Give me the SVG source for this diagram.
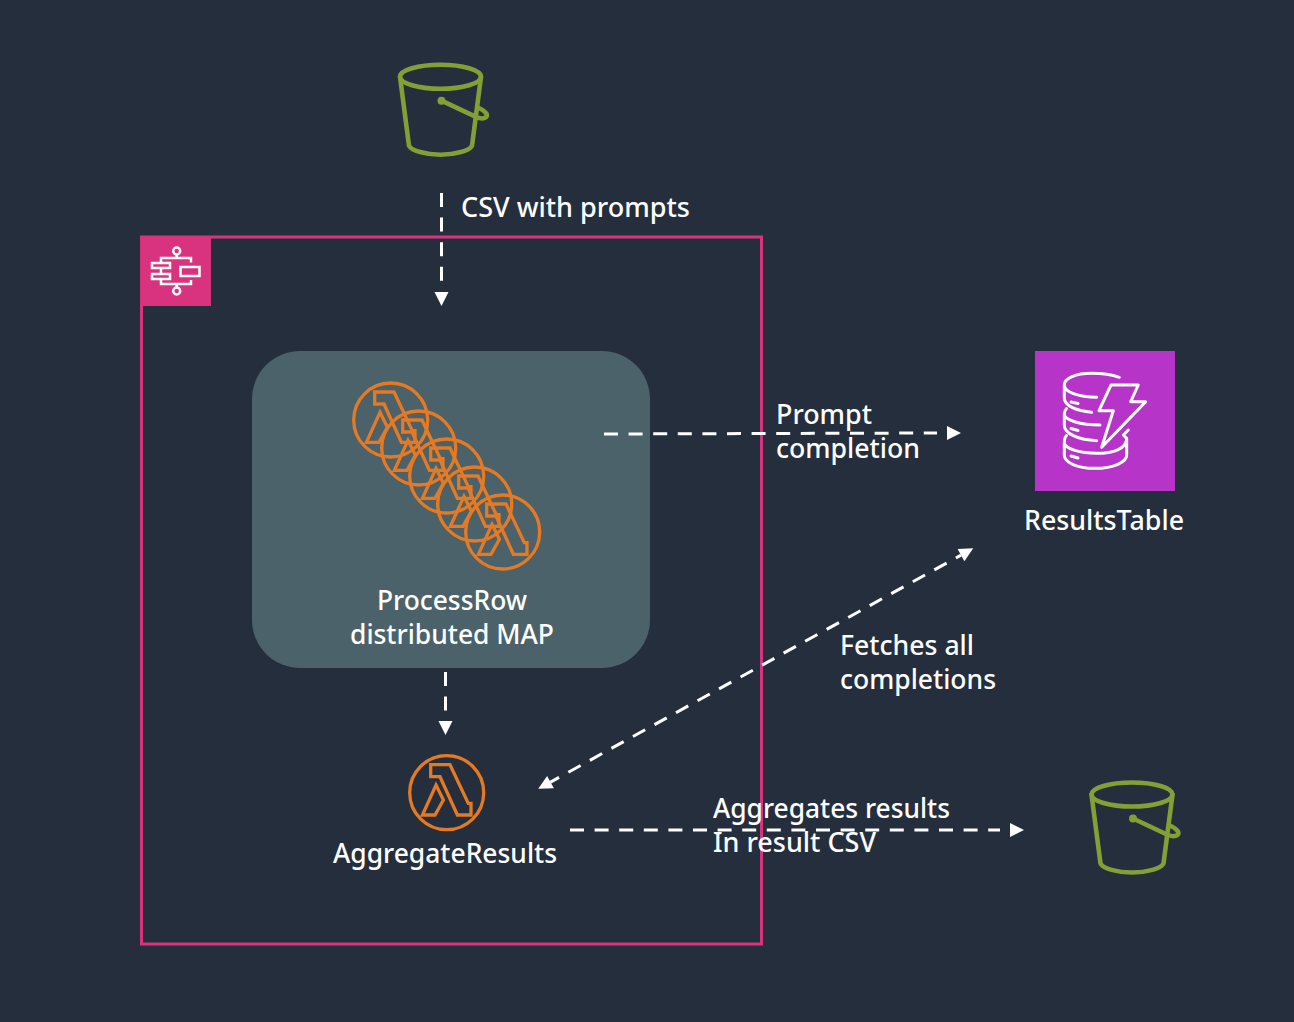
<svg xmlns="http://www.w3.org/2000/svg" width="1294" height="1022" viewBox="0 0 1294 1022">
<style>
text{font-family:"Noto Sans","Open Sans",sans-serif;font-size:27px;font-weight:500;fill:#fff}
.m{text-anchor:middle}
.c{fill:none;stroke:#fff;stroke-width:3;stroke-dasharray:14 10.600}
.l{fill:none;stroke:#e57a25;stroke-width:3.300}
.b{fill:none;stroke:#82a035;stroke-width:4.600;stroke-linecap:round;stroke-linejoin:round}
.w{fill:none;stroke:#fff;stroke-width:3;stroke-linecap:round;stroke-linejoin:round}
.ws{fill:none;stroke:#fff;stroke-width:2.500}
</style>
<defs>
<marker id="a" markerUnits="userSpaceOnUse" markerWidth="16" markerHeight="16" refX="-10" refY="7" orient="auto" overflow="visible"><path d="M0 0L14 7L0 14Z" fill="#fff"/></marker>
<marker id="h" markerUnits="userSpaceOnUse" markerWidth="16" markerHeight="16" refX="0" refY="7" orient="auto-start-reverse" overflow="visible"><path d="M0 0L14 7L0 14Z" fill="#fff"/></marker>
<g id="lam">
<circle r="37" class="l"/>
<path class="l" d="M-16-28H3.300L21.600 10.700H24.300V22.300H10.700L-6.700-16H-16ZM-10.700-7.700L-3.300 7.300-11.700 22.300H-24.300Z"/>
</g>
<g id="bucket">
<ellipse cx="0" cy="0" rx="40.500" ry="12" class="b"/>
<path class="b" d="M-40.500 0L-31.500 69C-29 74-15 78 0 78S29 74 31.500 69L40.500 0"/>
<path class="b" d="M1 24L36 40.500C43 43.500 47.500 40.500 46 37 44.500 34.500 40 32 37 30.500"/>
<circle cx="1" cy="24" r="4" fill="#82a035"/>
</g>
</defs>
<rect width="1294" height="1022" fill="#242e3d"/>
<g id="workflow">
<rect x="141.500" y="237" width="620" height="707" fill="none" stroke="#d9327e" stroke-width="3"/>
<rect x="140" y="236" width="71" height="70" fill="#d9327e"/>
<circle cx="176.700" cy="251" r="3.500" class="ws"/>
<circle cx="176.700" cy="291" r="3.500" class="ws"/>
<path class="ws" d="M176.700 254.500V258M161 263V258H191V262.500M161 268V274M161 279V284H191V280M176.700 284V287.500"/>
<rect x="152" y="263" width="18" height="5" class="ws"/>
<rect x="152" y="274" width="18" height="5" class="ws"/>
<rect x="180.500" y="267" width="19" height="9" class="ws"/>
</g>
<g id="source-bucket"><use href="#bucket" x="440.500" y="76.700"/></g>
<g id="map">
<rect x="252" y="351" width="398" height="317" rx="48" fill="#4b626a"/>
<use href="#lam" x="390.700" y="420"/>
<use href="#lam" x="418.700" y="448"/>
<use href="#lam" x="446.700" y="476"/>
<use href="#lam" x="474.700" y="504"/>
<use href="#lam" x="502.700" y="532"/>
<text class="m" x="452" y="610" textLength="150" lengthAdjust="spacingAndGlyphs">ProcessRow</text>
<text class="m" x="452" y="644" textLength="204" lengthAdjust="spacingAndGlyphs">distributed MAP</text>
</g>
<g id="aggregate">
<use href="#lam" x="446.700" y="792.700"/>
<text class="m" x="445" y="863" textLength="224" lengthAdjust="spacingAndGlyphs">AggregateResults</text>
</g>
<g id="table">
<rect x="1035" y="351" width="140" height="140" fill="#b634c8"/>
<path class="w" d="M1119.300 377.300C1111 374.300 1101 373.300 1091.700 373.300 1076 373.300 1064.300 378 1064.300 385V398C1064.300 406 1077 411 1091.700 412.300M1064.300 385C1064.300 392 1078 397 1096.700 397.300M1066.500 408.500C1065 410 1064.300 412 1064.300 414V425C1064.300 434 1079 440 1096.700 440.700M1064.300 414C1064.300 420 1080 425 1100 425M1066.500 435.500C1065 437 1064.300 439 1064.300 443.300V455C1064.300 462 1076 468.300 1095 468.300 1114 468.300 1126.700 462 1126.700 455V438.300M1064.300 443.300C1066 449 1080 453.300 1096.700 453.300 1113 453.300 1126.700 449 1126.700 438.300L1123.300 435 1128.300 430M1071 402L1078 403.500M1071 428.500L1078 430.500M1071 456L1078 458"/>
<path class="w" d="M1111 385H1138.300L1130.700 401.700H1145.700L1101.700 447.300 1113.300 410.700H1099Z"/>
<text class="m" x="1104" y="530" textLength="160" lengthAdjust="spacingAndGlyphs">ResultsTable</text>
</g>
<g id="result-bucket"><use href="#bucket" x="1132" y="794.500"/></g>
<g id="connectors">
<path class="c" marker-end="url(#a)" d="M441.500 193V282"/>
<path class="c" marker-end="url(#a)" d="M604 434L937 433"/>
<path class="c" marker-end="url(#a)" d="M445.500 672V711"/>
<path class="c" stroke-dashoffset="4.200" marker-start="url(#h)" marker-end="url(#h)" d="M550.500 782.100L961 555.100"/>
<path class="c" marker-end="url(#a)" d="M570 830H1000"/>
</g>
<g id="labels">
<text x="461" y="217" textLength="229" lengthAdjust="spacingAndGlyphs">CSV with prompts</text>
<text x="776" y="424" textLength="96" lengthAdjust="spacingAndGlyphs">Prompt</text>
<text x="776" y="458" textLength="144" lengthAdjust="spacingAndGlyphs">completion</text>
<text x="840" y="655" textLength="134" lengthAdjust="spacingAndGlyphs">Fetches all</text>
<text x="840" y="689" textLength="156" lengthAdjust="spacingAndGlyphs">completions</text>
<text x="713" y="818" textLength="237" lengthAdjust="spacingAndGlyphs">Aggregates results</text>
<text x="713" y="852" textLength="163" lengthAdjust="spacingAndGlyphs">In result CSV</text>
</g>
</svg>
